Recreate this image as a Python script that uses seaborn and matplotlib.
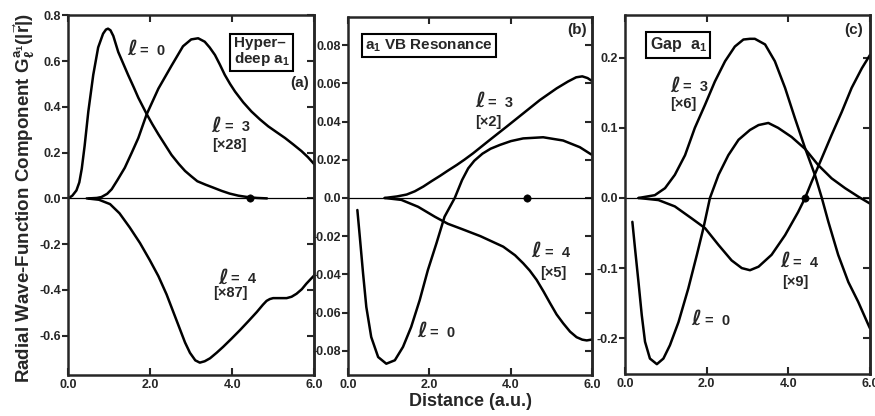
"""Radial wave-function components of the a1 states (three panels)."""
import matplotlib
matplotlib.use('Agg')
import matplotlib.pyplot as plt
import seaborn as sns
import pandas as pd

# %%
# Values
# (a) hyper-deep a1
a_l0_x = [0, 0.1, 0.2, 0.27, 0.33, 0.4, 0.49, 0.61, 0.73, 0.85, 0.92, 0.97, 1.03, 1.1, 1.22,
          1.34, 1.46, 1.6, 1.71, 1.91, 2.05, 2.2, 2.36, 2.52, 2.7, 2.85, 3.0, 3.15, 3.35, 3.54,
          3.74, 3.94, 4.15, 4.35, 4.6, 4.85]
a_l0_y = [0, 0.012, 0.035, 0.07, 0.13, 0.23, 0.38, 0.54, 0.66, 0.72, 0.738, 0.742, 0.735, 0.71,
          0.64, 0.59, 0.54, 0.485, 0.44, 0.37, 0.325, 0.28, 0.235, 0.19, 0.15, 0.12, 0.097, 0.075,
          0.06, 0.047, 0.033, 0.021, 0.012, 0.0065, 0.002, 0.0]
a_l3_x = [0.5, 0.7, 0.81, 0.95, 1.06, 1.2, 1.38, 1.55, 1.71, 1.91, 2.2, 2.52, 2.8, 3.0, 3.17,
          3.33, 3.45, 3.58, 3.7, 3.82, 3.95, 4.07, 4.27, 4.47, 4.68, 4.88, 5.08, 5.29, 5.49,
          5.69, 5.85, 6.0]
a_l3_y = [0, 0.002, 0.006, 0.02, 0.04, 0.08, 0.134, 0.2, 0.264, 0.366, 0.48, 0.58, 0.665, 0.695,
          0.70, 0.685, 0.66, 0.627, 0.585, 0.54, 0.5, 0.467, 0.42, 0.38, 0.345, 0.315, 0.29,
          0.264, 0.236, 0.207, 0.18, 0.15]
a_l4_x = [0.45, 0.75, 1.02, 1.25, 1.5, 1.75, 1.99, 2.2, 2.4, 2.55, 2.7, 2.85, 2.97, 3.1, 3.21,
          3.33, 3.46, 3.62, 3.78, 3.98, 4.19, 4.4, 4.6, 4.75, 4.84, 4.92, 5.0, 5.15, 5.33, 5.45,
          5.57, 5.7, 5.81, 5.92, 6.0]
a_l4_y = [0, -0.006, -0.025, -0.065, -0.127, -0.195, -0.27, -0.34, -0.42, -0.49, -0.56, -0.63,
          -0.675, -0.708, -0.718, -0.712, -0.699, -0.675, -0.649, -0.614, -0.576, -0.536, -0.497,
          -0.465, -0.448, -0.44, -0.436, -0.436, -0.436, -0.43, -0.417, -0.397, -0.373, -0.352,
          -0.337]

# (b) a1 valence-band resonance
b_l3_x = [0.9, 1.2, 1.44, 1.64, 1.85, 2.05, 2.26, 2.45, 2.67, 2.86, 3.07, 3.48, 3.89, 4.3,
          4.71, 5.12, 5.4, 5.6, 5.75, 5.88, 5.97]
b_l3_y = [0, 0.0008, 0.0018, 0.0035, 0.006, 0.0088, 0.0116, 0.0143, 0.0173, 0.0201, 0.0234,
          0.0304, 0.0373, 0.0443, 0.0513, 0.0574, 0.061, 0.0632, 0.0637, 0.0628, 0.0615]
b_l0_x = [0.23, 0.29, 0.37, 0.45, 0.57, 0.74, 0.94, 1.15, 1.35, 1.55, 1.76, 1.96, 2.17, 2.37,
          2.62, 2.8, 2.95, 3.1, 3.3, 3.5, 3.73, 4.0, 4.3, 4.79, 5.28, 5.69, 5.97]
b_l0_y = [-0.0063, -0.0203, -0.0395, -0.0571, -0.0728, -0.0833, -0.0868, -0.085, -0.078,
          -0.0676, -0.0535, -0.0378, -0.0238, -0.0098, 0.0, 0.0094, 0.0155, 0.0195, 0.0232,
          0.0258, 0.0278, 0.0298, 0.0312, 0.0318, 0.0301, 0.0266, 0.0228]
b_l4_x = [0.9, 1.31, 1.72, 2.13, 2.45, 2.8, 3.25, 3.81, 4.1, 4.3, 4.46, 4.63, 4.8, 4.96, 5.12,
          5.28, 5.45, 5.61, 5.75, 5.86, 5.97]
b_l4_y = [0, -0.001, -0.0046, -0.0098, -0.0135, -0.0163, -0.02, -0.0255, -0.030, -0.0342,
          -0.038, -0.0429, -0.049, -0.0551, -0.061, -0.0656, -0.070, -0.0729, -0.0742, -0.0746,
          -0.0742]

# (c) gap a1
c_l3_x = [0.33, 0.73, 0.98, 1.22, 1.47, 1.71, 1.96, 2.2, 2.45, 2.69, 2.9, 3.06, 3.18, 3.43,
          3.67, 3.92, 4.16, 4.41, 4.65, 4.82, 4.98, 5.22, 5.47, 5.71, 5.96, 6.0]
c_l3_y = [0, 0.004, 0.014, 0.033, 0.061, 0.1, 0.133, 0.166, 0.195, 0.216, 0.226, 0.227, 0.227,
          0.219, 0.195, 0.157, 0.114, 0.071, 0.033, 0.0, -0.034, -0.081, -0.12, -0.148, -0.181,
          -0.186]
c_l0_x = [0.18, 0.245, 0.33, 0.41, 0.49, 0.61, 0.78, 0.94, 1.1, 1.31, 1.55, 1.76, 1.92, 2.08,
          2.29, 2.53, 2.78, 3.06, 3.27, 3.51, 3.75, 4.08, 4.41, 4.73, 5.06, 5.39, 5.71, 6.0]
c_l0_y = [-0.034, -0.072, -0.12, -0.167, -0.205, -0.229, -0.237, -0.229, -0.21, -0.177, -0.129,
          -0.081, -0.043, 0.0, 0.033, 0.061, 0.083, 0.097, 0.104, 0.107, 0.1, 0.087, 0.07, 0.047,
          0.028, 0.014, 0.002, -0.008]
c_l4_x = [0.33, 0.82, 1.22, 1.63, 1.96, 2.29, 2.61, 2.86, 3.06, 3.27, 3.59, 3.92, 4.24, 4.41,
          4.57, 4.82, 5.06, 5.31, 5.55, 5.8, 6.0]
c_l4_y = [0, -0.003, -0.012, -0.029, -0.043, -0.067, -0.089, -0.1, -0.103, -0.098, -0.081,
          -0.053, -0.02, 0.0, 0.023, 0.057, 0.09, 0.123, 0.157, 0.185, 0.204]

# node of the wave function marked on the axis
node_x = [4.43, 4.4, 4.41]

x_ticks = [0, 2, 4, 6]
a_yticks = [-0.6, -0.4, -0.2, 0.0, 0.2, 0.4, 0.6, 0.8]
b_yticks = [-0.08, -0.06, -0.04, -0.02, 0.0, 0.02, 0.04, 0.06, 0.08]
c_yticks = [-0.2, -0.1, 0.0, 0.1, 0.2]

a_ylim = (-0.772, 0.8)
b_ylim = (-0.0927, 0.0948)
c_ylim = (-0.251, 0.261)

panel_tags = ['(a)', '(b)', '(c)']
box_titles = ['Hyper\u2013\ndeep a$_1$', 'a$_1$ VB Resonance', 'Gap  a$_1$']
l_values = ['0', '3', '4']
a_scales = ['[\u00d728]', '[\u00d787]']
b_scales = ['[\u00d72]', '[\u00d75]']
c_scales = ['[\u00d76]', '[\u00d79]']

# %%
sns.set_style('ticks')
plt.rcParams['font.family'] = ['Liberation Sans', 'DejaVu Sans']
plt.rcParams['font.weight'] = 'bold'
plt.rcParams['mathtext.fontset'] = 'custom'
plt.rcParams['mathtext.rm'] = 'Liberation Sans:bold'
plt.rcParams['mathtext.bf'] = 'Liberation Sans:bold'
plt.rcParams['mathtext.it'] = 'Liberation Sans:bold:italic'
plt.rcParams['mathtext.default'] = 'bf'


def ell_label(ax, x, y, value):
    """Script l followed by '= n', placed at its baseline."""
    ax.text(x, y, '\u2113', fontsize=15, style='italic', weight='bold', va='baseline',
            family=['DejaVu Serif', 'DejaVu Sans'])
    ax.annotate('=  ' + value, xy=(x, y), xytext=(9.5, 0), textcoords='offset points',
                fontsize=10.5, va='baseline')


fig = plt.figure(figsize=(8.75, 4.16), dpi=100)
ax_a = fig.add_axes([0.078, 0.0986, 0.281, 0.8644])
ax_b = fig.add_axes([0.3977, 0.0986, 0.2794, 0.8606])
ax_c = fig.add_axes([0.7143, 0.101, 0.28, 0.863])

panels = [
    (ax_a, [(a_l0_x, a_l0_y), (a_l3_x, a_l3_y), (a_l4_x, a_l4_y)], a_yticks, a_ylim, '{:.1f}'),
    (ax_b, [(b_l0_x, b_l0_y), (b_l3_x, b_l3_y), (b_l4_x, b_l4_y)], b_yticks, b_ylim, '{:.2f}'),
    (ax_c, [(c_l0_x, c_l0_y), (c_l3_x, c_l3_y), (c_l4_x, c_l4_y)], c_yticks, c_ylim, '{:.1f}'),
]

for i, (ax, curves, yticks, ylim, fmt) in enumerate(panels):
    ax.axhline(0, color='black', lw=0.9, zorder=1)
    for xs, ys in curves:
        df = pd.DataFrame({'r': xs, 'G': ys})
        sns.lineplot(data=df, x='r', y='G', ax=ax, color='black', lw=1.8,
                     sort=False, estimator=None)
    sns.scatterplot(x=[node_x[i]], y=[0], ax=ax, color='black', edgecolor='black',
                    s=28, zorder=5)

    ax.set_xlim(0, 6)
    ax.set_ylim(*ylim)
    ax.set_xticks(x_ticks)
    ax.set_xticklabels(['{:.1f}'.format(t) for t in x_ticks])
    ax.set_yticks(yticks)
    ax.set_yticklabels(['0.0' if t == 0 else fmt.format(t) for t in yticks])
    ax.set_xlabel('')
    ax.set_ylabel('')
    ax.tick_params(axis='x', direction='in', top=True, bottom=True, length=5, width=1.5,
                   labelsize=9, pad=3)
    ax.tick_params(axis='y', direction='out', left=True, right=False, length=4, width=1.5,
                   labelsize=9, pad=1)
    # inward ticks on the right side
    sec = ax.secondary_yaxis('right')
    sec.set_yticks(yticks)
    sec.tick_params(direction='in', length=5, width=1.5, labelright=False)
    sec.spines['right'].set_linewidth(1.8)
    for sp in ax.spines.values():
        sp.set_visible(True)
        sp.set_linewidth(1.8)

box_style = dict(boxstyle='square,pad=0.22', fc='white', ec='black', lw=1.5)

# %%
# labels inside the panels
ell_label(ax_a, 1.43, 0.628, l_values[0])
ell_label(ax_a, 3.5, 0.293, l_values[1])
ax_a.text(3.5, 0.215, a_scales[0], fontsize=10.5, va='baseline')
ell_label(ax_a, 3.66, -0.372, l_values[2])
ax_a.text(3.54, -0.431, a_scales[1], fontsize=10.5, va='baseline')
ax_a.text(4.04, 0.641, box_titles[0], fontsize=11, va='center', linespacing=1.0,
          bbox=box_style)
ax_a.text(5.87, 0.503, panel_tags[0], fontsize=11, ha='right', va='center')

ell_label(ax_b, 3.12, 0.0478, l_values[1])
ax_b.text(3.12, 0.0378, b_scales[0], fontsize=10.5, va='baseline')
ell_label(ax_b, 4.51, -0.0308, l_values[2])
ax_b.text(4.71, -0.0413, b_scales[1], fontsize=10.5, va='baseline')
ell_label(ax_b, 1.69, -0.0728, l_values[0])
ax_b.text(0.42, 0.0798, box_titles[1], fontsize=11, va='center', bbox=box_style)
ax_b.text(5.86, 0.088, panel_tags[1], fontsize=11, ha='right', va='center')

ell_label(ax_c, 1.1, 0.152, l_values[1])
ax_c.text(1.1, 0.128, c_scales[0], fontsize=10.5, va='baseline')
ell_label(ax_c, 3.8, -0.098, l_values[2])
ax_c.text(3.84, -0.126, c_scales[1], fontsize=10.5, va='baseline')
ell_label(ax_c, 1.63, -0.181, l_values[0])
ax_c.text(0.61, 0.2186, box_titles[2], fontsize=11.5, va='center', bbox=box_style)
ax_c.text(5.83, 0.24, panel_tags[2], fontsize=11, ha='right', va='center')

# %%
fig.text(0.028, 0.525, r'Radial Wave-Function Component $G_{\ell}^{a_1}(|\vec{r}|)$',
         rotation=90, ha='center', va='center', fontsize=13.5)
fig.text(0.538, 0.036, 'Distance (a.u.)', ha='center', va='center', fontsize=13)

plt.savefig('out.png', dpi=100)
